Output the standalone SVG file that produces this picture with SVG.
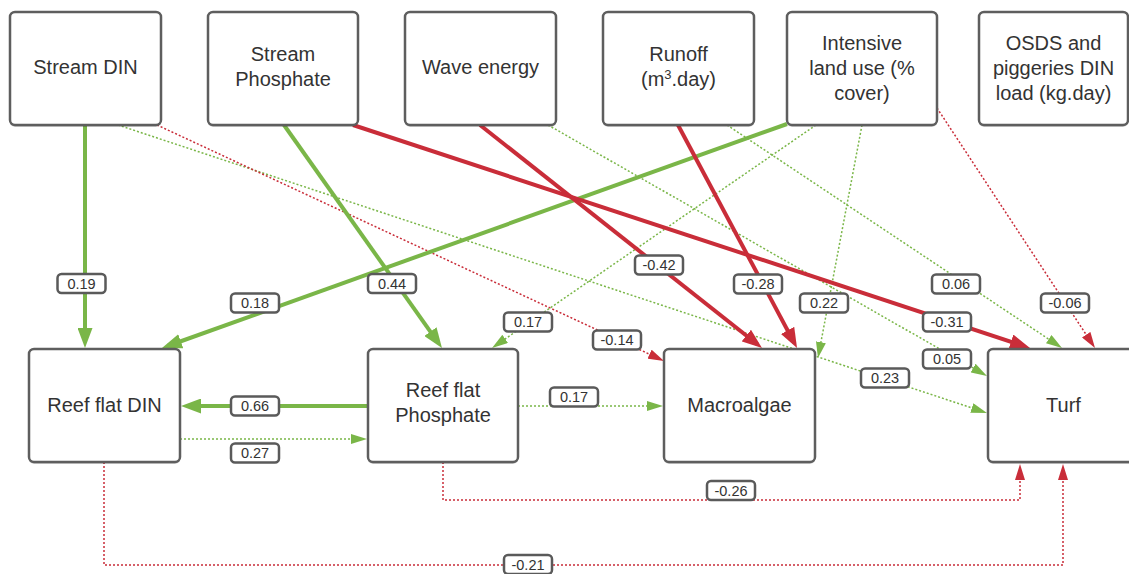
<svg xmlns="http://www.w3.org/2000/svg" width="1129" height="574" viewBox="0 0 1129 574">
<style>
.box{fill:#fff;stroke:#5e5e5e;stroke-width:2.5}
.shadow{fill:#000;opacity:0.18}
.nt{font-family:"Liberation Sans",Arial,sans-serif;font-size:20px;fill:#333;text-anchor:middle}
.g4{fill:none;stroke:#7ab648;stroke-width:4}
.r4{fill:none;stroke:#c92d39;stroke-width:4}
.gd{fill:none;stroke:#7ab648;stroke-width:1.5;stroke-dasharray:2 2}
.rd{fill:none;stroke:#c92d39;stroke-width:1.5;stroke-dasharray:2 2}
.lb{fill:#fff;stroke:#5a5a5a;stroke-width:2.5}
.lt{font-family:"Liberation Sans",Arial,sans-serif;font-size:14.5px;fill:#333;text-anchor:middle}
</style>
<defs>
<marker id="ag" markerUnits="userSpaceOnUse" markerWidth="20" markerHeight="15" refX="14" refY="7.5" orient="auto"><path d="M0,0 L20,7.5 L0,15 z" fill="#7ab648"/></marker>
<marker id="ar" markerUnits="userSpaceOnUse" markerWidth="20" markerHeight="15" refX="14" refY="7.5" orient="auto"><path d="M0,0 L20,7.5 L0,15 z" fill="#c92d39"/></marker>
<marker id="tg" markerUnits="userSpaceOnUse" markerWidth="16" markerHeight="10" refX="12" refY="5" orient="auto"><path d="M0,0 L16,5 L0,10 z" fill="#7ab648"/></marker>
<marker id="tr" markerUnits="userSpaceOnUse" markerWidth="16" markerHeight="10" refX="12" refY="5" orient="auto"><path d="M0,0 L16,5 L0,10 z" fill="#c92d39"/></marker>
</defs>
<rect width="1129" height="574" fill="#fff"/>

<g id="connectors">
<path class="gd" d="M118,125 L983.2,411.7" marker-end="url(#tg)"/>
<path class="rd" d="M157,125 L660.4,359.3" marker-end="url(#tr)"/>
<path class="gd" d="M548,125 L983.5,374" marker-end="url(#tg)"/>
<path class="gd" d="M727,125 L1058.7,345.8" marker-end="url(#tg)"/>
<path class="gd" d="M816,125 L495.3,345.7" marker-end="url(#tg)"/>
<path class="gd" d="M862,125 L818.7,354" marker-end="url(#tg)"/>
<path class="rd" d="M937,108 L1092.8,344.7" marker-end="url(#tr)"/>
<path class="gd" d="M180,439 L363,439" marker-end="url(#tg)"/>
<path class="gd" d="M518,406 L659,406" marker-end="url(#tg)"/>
<path class="rd" d="M443,462 V500 H1020 V468" marker-end="url(#tr)"/>
<path class="rd" d="M104,462 V565 H1063 V468" marker-end="url(#tr)"/>
<path class="g4" d="M85,125 L85,342" marker-end="url(#ag)"/>
<path class="g4" d="M284,125 L438.5,343.1" marker-end="url(#ag)"/>
<path class="g4" d="M787,124 L167.6,346" marker-end="url(#ag)"/>
<path class="g4" d="M368,406 L187,406" marker-end="url(#ag)"/>
<path class="r4" d="M480,125 L757.3,344.3" marker-end="url(#ar)"/>
<path class="r4" d="M678,125 L794.2,342.7" marker-end="url(#ar)"/>
<path class="r4" d="M353,125 L1024.3,346.1" marker-end="url(#ar)"/>

<g><rect class="lb" x="57.5" y="274" width="48" height="19" rx="4"/><text class="lt" x="81.5" y="288.5">0.19</text></g>
<g><rect class="lb" x="368" y="274" width="48" height="19" rx="4"/><text class="lt" x="392" y="288.5">0.44</text></g>
<g><rect class="lb" x="231" y="293.5" width="48" height="19" rx="4"/><text class="lt" x="255" y="308">0.18</text></g>
<g><rect class="lb" x="504" y="312.5" width="48" height="19" rx="4"/><text class="lt" x="528" y="327">0.17</text></g>
<g><rect class="lb" x="231" y="396.5" width="48" height="19" rx="4"/><text class="lt" x="255" y="411">0.66</text></g>
<g><rect class="lb" x="231" y="443.5" width="48" height="19" rx="4"/><text class="lt" x="255" y="458">0.27</text></g>
<g><rect class="lb" x="550" y="387.5" width="48" height="19" rx="4"/><text class="lt" x="574" y="402">0.17</text></g>
<g><rect class="lb" x="593" y="330.5" width="48" height="19" rx="4"/><text class="lt" x="617" y="345">-0.14</text></g>
<g><rect class="lb" x="635" y="255.5" width="48" height="19" rx="4"/><text class="lt" x="659" y="270">-0.42</text></g>
<g><rect class="lb" x="734" y="274.5" width="48" height="19" rx="4"/><text class="lt" x="758" y="289">-0.28</text></g>
<g><rect class="lb" x="800" y="293.5" width="48" height="19" rx="4"/><text class="lt" x="824" y="308">0.22</text></g>
<g><rect class="lb" x="932" y="274.5" width="48" height="19" rx="4"/><text class="lt" x="956" y="289">0.06</text></g>
<g><rect class="lb" x="1041" y="293.5" width="48" height="19" rx="4"/><text class="lt" x="1065" y="308">-0.06</text></g>
<g><rect class="lb" x="923" y="312.5" width="48" height="19" rx="4"/><text class="lt" x="947" y="327">-0.31</text></g>
<g><rect class="lb" x="923" y="349.5" width="48" height="19" rx="4"/><text class="lt" x="947" y="364">0.05</text></g>
<g><rect class="lb" x="861" y="368.5" width="48" height="19" rx="4"/><text class="lt" x="885" y="383">0.23</text></g>
<g><rect class="lb" x="707" y="481" width="48" height="19" rx="4"/><text class="lt" x="731" y="495.5">-0.26</text></g>
<g><rect class="lb" x="504" y="555" width="48" height="19" rx="4"/><text class="lt" x="528" y="569.5">-0.21</text></g>
</g>

<g id="stream-din"><rect class="shadow" x="10" y="14" width="151" height="113" rx="5"/><rect class="box" x="10" y="12" width="151" height="113" rx="5"/><text class="nt" x="85.5" y="74">Stream DIN</text></g>
<g id="stream-phosphate"><rect class="shadow" x="208" y="14" width="150" height="113" rx="5"/><rect class="box" x="208" y="12" width="150" height="113" rx="5"/><text class="nt" x="283" y="61">Stream</text><text class="nt" x="283" y="86">Phosphate</text></g>
<g id="wave-energy"><rect class="shadow" x="405" y="14" width="151" height="113" rx="5"/><rect class="box" x="405" y="12" width="151" height="113" rx="5"/><text class="nt" x="480.5" y="74">Wave energy</text></g>
<g id="runoff"><rect class="shadow" x="603" y="14" width="151" height="113" rx="5"/><rect class="box" x="603" y="12" width="151" height="113" rx="5"/><text class="nt" x="678.5" y="61">Runoff</text><text class="nt" x="678.5" y="86">(m<tspan font-size="13" dy="-7">3</tspan><tspan dy="7">.day)</tspan></text></g>
<g id="intensive-land-use"><rect class="shadow" x="787" y="14" width="150" height="113" rx="5"/><rect class="box" x="787" y="12" width="150" height="113" rx="5"/><text class="nt" x="862" y="50">Intensive</text><text class="nt" x="862" y="75">land use (%</text><text class="nt" x="862" y="100">cover)</text></g>
<g id="osds"><rect class="shadow" x="979" y="14" width="149" height="113" rx="5"/><rect class="box" x="979" y="12" width="149" height="113" rx="5"/><text class="nt" x="1053.5" y="50">OSDS and</text><text class="nt" x="1053.5" y="75">piggeries DIN</text><text class="nt" x="1053.5" y="100">load (kg.day)</text></g>
<g id="reef-flat-din"><rect class="shadow" x="29" y="351" width="151" height="113" rx="5"/><rect class="box" x="29" y="349" width="151" height="113" rx="5"/><text class="nt" x="104.5" y="412">Reef flat DIN</text></g>
<g id="reef-flat-phosphate"><rect class="shadow" x="368" y="351" width="150" height="113" rx="5"/><rect class="box" x="368" y="349" width="150" height="113" rx="5"/><text class="nt" x="443" y="397">Reef flat</text><text class="nt" x="443" y="422">Phosphate</text></g>
<g id="macroalgae"><rect class="shadow" x="664" y="351" width="151" height="113" rx="5"/><rect class="box" x="664" y="349" width="151" height="113" rx="5"/><text class="nt" x="739.5" y="412">Macroalgae</text></g>
<g id="turf"><rect class="shadow" x="988" y="351" width="151" height="113" rx="5"/><rect class="box" x="988" y="349" width="151" height="113" rx="5"/><text class="nt" x="1063.5" y="412">Turf</text></g>
</svg>
